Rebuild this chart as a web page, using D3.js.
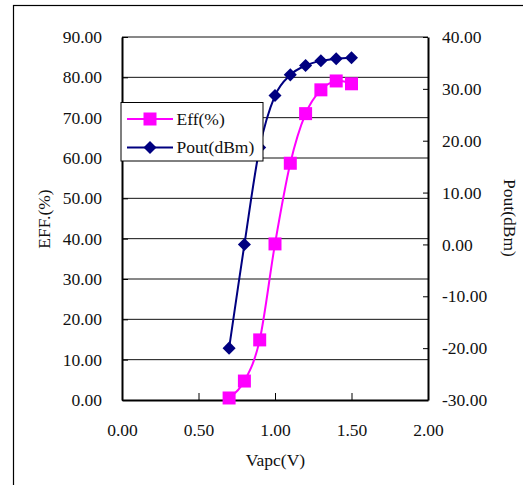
<!DOCTYPE html>
<html><head><meta charset="utf-8">
<script src="https://cdn.jsdelivr.net/npm/d3@7"></script>
<style>
html,body{margin:0;padding:0;background:#fff;}
</style></head>
<body><svg id="c" width="523" height="485"></svg>
<script>
const vapc = [0.7, 0.8, 0.9, 1.0, 1.1, 1.2, 1.3, 1.4, 1.5];
const eff = [0.5, 4.7, 14.9, 38.7, 58.7, 71.0, 76.9, 79.1, 78.4];
const pout = [-20.0, 0.0, 18.7, 28.7, 32.7, 34.5, 35.4, 35.8, 36.0];
const xTicks = [0, 0.5, 1.0, 1.5, 2.0];
const effTicks = [0, 10, 20, 30, 40, 50, 60, 70, 80, 90];
const poutTicks = [-30, -20, -10, 0, 10, 20, 30, 40];
const seriesNames = ["Eff(%)", "Pout(dBm)"];

const FONT = "'Liberation Serif', 'Times New Roman', Times, 'DejaVu Serif', serif";
const svg = d3.select("#c");
const L = 122, R = 428, T = 37, B = 400;
const fs = 17.5;
const x = d3.scaleLinear().domain([0, 2]).range([L, R]);
const yL = d3.scaleLinear().domain([0, 90]).range([B, T]);
const yR = d3.scaleLinear().domain([-30, 40]).range([B, T]);

// outer frame
svg.append("rect").attr("x", 13.5).attr("y", 5.5).attr("width", 530).attr("height", 500)
  .attr("fill", "none").attr("stroke", "#000").attr("stroke-width", 1.2);

// gridlines
svg.append("g").selectAll("line").data(effTicks.filter(d => d > 0)).join("line")
  .attr("x1", L).attr("x2", R).attr("y1", d => yL(d)).attr("y2", d => yL(d))
  .attr("stroke", "#111").attr("stroke-width", 1);

const fmt = d => d3.format(".2f")(d).replace("\u2212", "-");
function styleAxis(g) {
  g.attr("font-family", null);
  g.selectAll("text").style("font-size", fs + "px").style("font-family", FONT).attr("fill", "#111");
  g.selectAll("line").attr("stroke", "#000");
  g.select(".domain").attr("stroke", "#000").attr("stroke-width", 2);
}
// left axis
const gl = svg.append("g").attr("transform", `translate(${L},0)`)
  .call(d3.axisLeft(yL).tickValues(effTicks).tickFormat(fmt).tickSize(-6).tickSizeOuter(0).tickPadding(20));
styleAxis(gl);
// right axis
const gr = svg.append("g").attr("transform", `translate(${R},0)`)
  .call(d3.axisRight(yR).tickValues(poutTicks).tickFormat(fmt).tickSize(-5).tickSizeOuter(0).tickPadding(14));
styleAxis(gr);
// bottom axis
const gb = svg.append("g").attr("transform", `translate(0,${B})`)
  .call(d3.axisBottom(x).tickValues(xTicks).tickFormat(fmt).tickSize(-7).tickSizeOuter(0).tickPadding(23.6));
styleAxis(gb);

// lines
const curve = d3.curveCardinal.tension(0);
const lineEff = d3.line().x((d, i) => x(vapc[i])).y(d => yL(d)).curve(curve);
const linePout = d3.line().x((d, i) => x(vapc[i])).y(d => yR(d)).curve(curve);
svg.append("path").attr("d", linePout(pout)).attr("fill", "none").attr("stroke", "#000080").attr("stroke-width", 2);
svg.append("path").attr("d", lineEff(eff)).attr("fill", "none").attr("stroke", "#FF00FF").attr("stroke-width", 2);

const sq = d3.symbol().type(d3.symbolSquare).size(169);
const dia = d3.symbol().type(d3.symbolSquare).size(85);
svg.append("g").selectAll("path").data(pout).join("path")
  .attr("d", dia).attr("fill", "#000080")
  .attr("transform", (d, i) => `translate(${x(vapc[i])},${yR(d)}) rotate(45)`);
svg.append("g").selectAll("path").data(eff).join("path")
  .attr("d", sq).attr("fill", "#FF00FF")
  .attr("transform", (d, i) => `translate(${x(vapc[i])},${yL(d)})`);

// legend
const lg = svg.append("g");
lg.append("rect").attr("x", 121).attr("y", 102.5).attr("width", 142).attr("height", 58.5)
  .attr("fill", "#fff").attr("stroke", "#000").attr("stroke-width", 1);
const legColors = ["#FF00FF", "#000080"];
const legY = [119, 147.5];
seriesNames.forEach((n, i) => {
  lg.append("line").attr("x1", 127).attr("x2", 173).attr("y1", legY[i]).attr("y2", legY[i])
    .attr("stroke", legColors[i]).attr("stroke-width", 2);
  lg.append("path").attr("d", i === 0 ? sq : dia).attr("fill", legColors[i])
    .attr("transform", `translate(150,${legY[i]})` + (i === 1 ? " rotate(45)" : ""));
  lg.append("text").attr("x", 176.5).attr("y", legY[i]).attr("dy", "0.34em")
    .style("font-size", fs + "px").style("font-family", FONT).attr("fill", "#111").text(n);
});

// axis titles
svg.append("text").attr("transform", "translate(50,219) rotate(-90)").attr("text-anchor", "middle")
  .style("font-size", fs + "px").style("font-family", FONT).attr("fill", "#111").text("EFF.(%)");
svg.append("text").attr("transform", "translate(504,218) rotate(90)").attr("text-anchor", "middle")
  .style("font-size", fs + "px").style("font-family", FONT).attr("fill", "#111").text("Pout(dBm)");
svg.append("text").attr("x", 275.5).attr("y", 466).attr("text-anchor", "middle")
  .style("font-size", fs + "px").style("font-family", FONT).attr("fill", "#111").text("Vapc(V)");
</script></body></html>
